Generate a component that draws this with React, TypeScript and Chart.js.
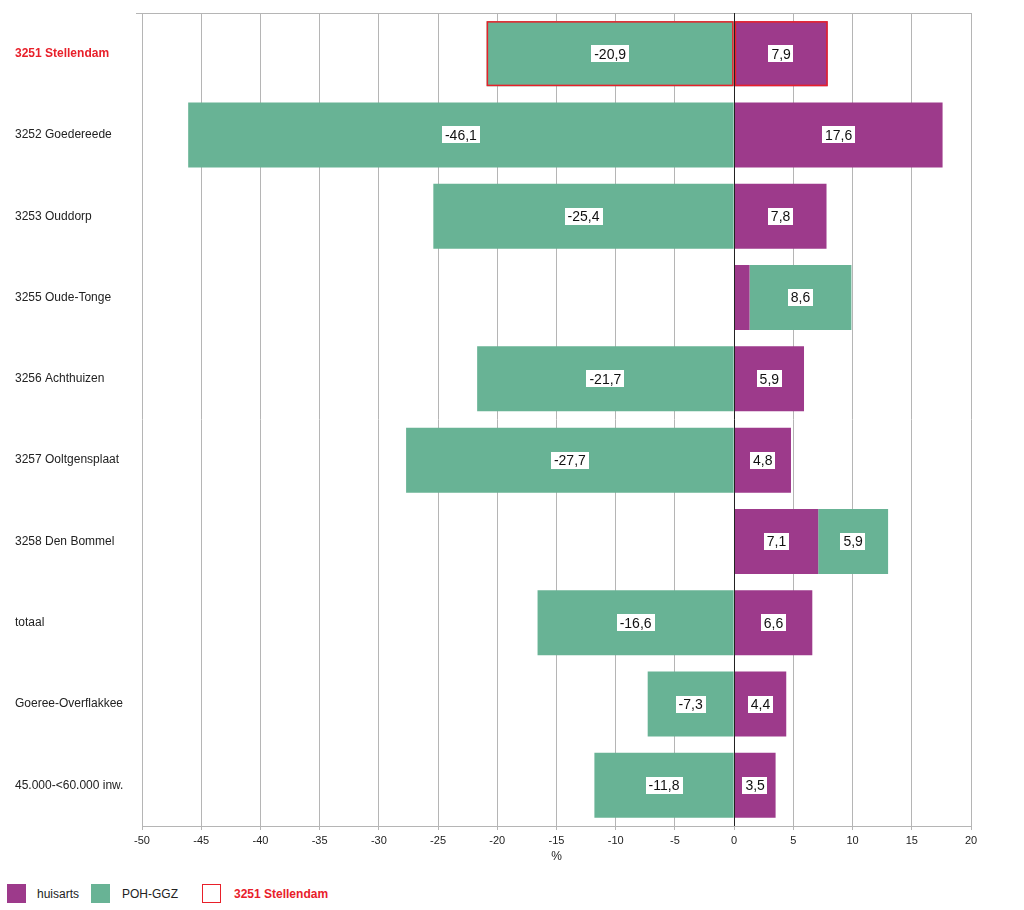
import React, { useEffect, useRef } from "react";
import { Chart, registerables } from "chart.js";

Chart.register(...registerables);

const categories = [
  "3251 Stellendam",
  "3252 Goedereede",
  "3253 Ouddorp",
  "3255 Oude-Tonge",
  "3256 Achthuizen",
  "3257 Ooltgensplaat",
  "3258 Den Bommel",
  "totaal",
  "Goeree-Overflakkee",
  "45.000-<60.000 inw.",
];
const huisarts = [7.9, 17.6, 7.8, 1.3, 5.9, 4.8, 7.1, 6.6, 4.4, 3.5];
const pohGgz = [-20.9, -46.1, -25.4, 8.6, -21.7, -27.7, 5.9, -16.6, -7.3, -11.8];
const showLabel = [
  [true, true, true, false, true, true, true, true, true, true],
  [true, true, true, true, true, true, true, true, true, true],
];
const highlightIndex = 0;
const xMin = -50;
const xMax = 20;
const xStep = 5;

const PURPLE = "#9d3a8b";
const GREEN = "#68b395";
const RED = "#e8202a";
const FONT = "'Liberation Sans', Arial, sans-serif";

const fmt = (v: number) => v.toFixed(1).replace(".", ",");

const overlayPlugin = {
  id: "overlay",
  beforeDatasetsDraw(chart: any) {
    const { ctx, chartArea } = chart;
    ctx.save();
    ctx.strokeStyle = "#b5b5b5";
    ctx.lineWidth = 1;
    ctx.beginPath();
    ctx.moveTo(chartArea.left - 6, Math.round(chartArea.top) + 0.5);
    ctx.lineTo(chartArea.right + 1, Math.round(chartArea.top) + 0.5);
    ctx.stroke();
    ctx.restore();
  },
  afterDatasetsDraw(chart: any) {
    const { ctx, chartArea } = chart;
    const xs = chart.scales.x;

    // highlight outline
    ctx.save();
    ctx.strokeStyle = RED;
    ctx.lineWidth = 1.5;
    chart.data.datasets.forEach((_ds: any, di: number) => {
      const el: any = chart.getDatasetMeta(di).data[highlightIndex];
      if (!el) return;
      const l = Math.min(el.x, el.base);
      const r = Math.max(el.x, el.base);
      const t = el.y - el.height / 2;
      ctx.strokeRect(l + 0.75, t + 0.75, r - l - 1.5, el.height - 1.5);
    });
    ctx.restore();

    const x0 = Math.round(xs.getPixelForValue(0)) + 0.5;
    ctx.save();
    ctx.strokeStyle = "#222";
    ctx.lineWidth = 1;
    ctx.beginPath();
    ctx.moveTo(x0, chartArea.top);
    ctx.lineTo(x0, chartArea.bottom);
    ctx.stroke();

    ctx.font = `14px ${FONT}`;
    ctx.textAlign = "center";
    ctx.textBaseline = "middle";
    chart.data.datasets.forEach((ds: any, di: number) => {
      const meta = chart.getDatasetMeta(di);
      meta.data.forEach((el: any, i: number) => {
        const v = ds.data[i];
        if (v == null || !showLabel[di][i]) return;
        const cx = (el.x + el.base) / 2;
        const cy = el.y;
        const t = fmt(v);
        const w = ctx.measureText(t).width + 6;
        const h = 17;
        ctx.fillStyle = "#ffffff";
        ctx.fillRect(Math.round(cx - w / 2), Math.round(cy - h / 2), Math.round(w), h);
        ctx.fillStyle = "#111";
        ctx.fillText(t, cx, cy + 1);
      });
    });
    ctx.restore();
  },
};

export default function App() {
  const ref = useRef<HTMLCanvasElement>(null);

  useEffect(() => {
    if (!ref.current) return;
    const chart = new Chart(ref.current, {
      type: "bar",
      data: {
        labels: categories,
        datasets: [
          {
            label: "huisarts",
            data: huisarts,
            backgroundColor: PURPLE,
            borderWidth: 0,
            categoryPercentage: 1,
            barPercentage: 0.8,
          },
          {
            label: "POH-GGZ",
            data: pohGgz,
            backgroundColor: GREEN,
            borderWidth: 0,
            categoryPercentage: 1,
            barPercentage: 0.8,
          },
        ],
      },
      options: {
        indexAxis: "y",
        responsive: false,
        animation: false,
        layout: { padding: { top: 13, left: 15, right: 53, bottom: 0 } },
        plugins: {
          legend: { display: false },
          tooltip: { enabled: false },
        },
        scales: {
          x: {
            stacked: true,
            min: xMin,
            max: xMax,
            ticks: {
              stepSize: xStep,
              color: "#222",
              padding: 4,
              font: { family: FONT, size: 11 },
              callback: (v: any) => String(v),
            },
            grid: {
              color: "#b5b5b5",
              tickLength: 4,
            },
            border: { display: true, color: "#b5b5b5" },
            title: {
              display: true,
              text: "%",
              color: "#222",
              font: { family: FONT, size: 12 },
              padding: { top: 2, bottom: 6 },
            },
            afterFit: (s: any) => {
              s.height = 44;
            },
          },
          y: {
            stacked: true,
            grid: { display: false },
            border: { display: false },
            ticks: {
              crossAlign: "far",
              color: (c: any) => (c.index === highlightIndex ? RED : "#222"),
              font: (c: any) =>
                c.index === highlightIndex
                  ? { family: FONT, size: 12, weight: "bold" }
                  : { family: FONT, size: 12 },
            },
            afterFit: (s: any) => {
              s.width = 127;
            },
          },
        },
      },
      plugins: [overlayPlugin],
    } as any);
    return () => chart.destroy();
  }, []);

  const sq = (bg: string, border: string) => ({
    display: "inline-block",
    width: 19,
    height: 19,
    boxSizing: "border-box" as const,
    background: bg,
    border: border,
    verticalAlign: "middle",
  });

  return (
    <div style={{ position: "absolute", left: 0, top: 0, width: 1024, height: 910, background: "#fff" }}>
      <canvas ref={ref} width={1024} height={870} style={{ position: "absolute", left: 0, top: 0 }} />
      <div
        style={{
          position: "absolute",
          left: 7,
          top: 884,
          fontFamily: FONT,
          fontSize: 12,
          color: "#222",
          display: "flex",
          alignItems: "center",
          height: 19,
        }}
      >
        <span style={sq(PURPLE, "none")} />
        <span style={{ marginLeft: 11, width: 54 }}>huisarts</span>
        <span style={sq(GREEN, "none")} />
        <span style={{ marginLeft: 12, width: 80 }}>POH-GGZ</span>
        <span style={sq("#fff", `1px solid ${RED}`)} />
        <span style={{ marginLeft: 13, color: RED, fontWeight: "bold" }}>3251 Stellendam</span>
      </div>
    </div>
  );
}
